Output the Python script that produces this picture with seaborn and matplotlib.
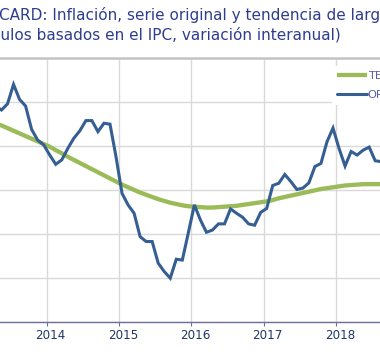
import numpy as np
import pandas as pd
import matplotlib
matplotlib.use("Agg")
import matplotlib.pyplot as plt
import matplotlib.transforms as mtransforms
import seaborn as sns

# monthly data, Apr 2013 - Aug 2018
months = pd.period_range("2013-04", "2018-08", freq="M")

original = [
    4.90, 4.81, 4.95, 5.39, 5.05, 4.90, 4.37, 4.13, 4.02,              # 2013
    3.79, 3.58, 3.68, 3.94, 4.17, 4.34, 4.57, 4.57, 4.32, 4.51, 4.49, 3.75,  # 2014
    2.92, 2.66, 2.47, 1.94, 1.83, 1.83, 1.34, 1.15, 1.00, 1.43, 1.41, 2.03,  # 2015
    2.66, 2.32, 2.04, 2.09, 2.23, 2.23, 2.57, 2.47, 2.38, 2.23, 2.20, 2.49,  # 2016
    2.58, 3.10, 3.15, 3.35, 3.19, 3.01, 3.04, 3.16, 3.53, 3.60, 4.09, 4.40,  # 2017
    3.94, 3.54, 3.87, 3.79, 3.90, 3.97, 3.66, 3.64,                          # 2018
]

tendencia = [
    4.50, 4.46, 4.40, 4.34, 4.28, 4.22, 4.16, 4.10, 4.04,
    3.98, 3.90, 3.83, 3.75, 3.68, 3.61, 3.54, 3.47, 3.40, 3.33, 3.26, 3.19,
    3.12, 3.06, 3.00, 2.94, 2.89, 2.84, 2.79, 2.75, 2.71, 2.68, 2.65, 2.63,
    2.62, 2.61, 2.60, 2.60, 2.61, 2.62, 2.63, 2.64, 2.66, 2.68, 2.70, 2.72,
    2.74, 2.77, 2.81, 2.84, 2.87, 2.90, 2.93, 2.96, 2.99, 3.02, 3.04, 3.06,
    3.08, 3.10, 3.11, 3.12, 3.13, 3.13, 3.13, 3.13,
]

years = [2014, 2015, 2016, 2017, 2018]

title1 = "CARD: Inflación, serie original y tendencia de largo plazo"
title2 = "(cálculos basados en el IPC, variación interanual)"

# category axis: month index from Jan 2014, points at category centres
pos = np.array([(p.year - 2014) * 12 + p.month - 1 for p in months]) + 0.5
df = pd.DataFrame({
    "x": np.concatenate([pos, pos]),
    "valor": original + tendencia,
    "serie": ["ORIGINAL"] * len(pos) + ["TENDENCIA"] * len(pos),
})

sns.set_style("white")
plt.rcParams["font.family"] = ["DejaVu Sans"]

W, H = 380, 363
fig = plt.figure(figsize=(W / 100, H / 100), dpi=100)
ax = fig.add_axes([0, (H - 322.3) / H, 1, (322.3 - 57.5) / H])

palette = {"TENDENCIA": "#9BBB59", "ORIGINAL": "#355E93"}
sns.lineplot(data=df[df.serie == "TENDENCIA"], x="x", y="valor", color=palette["TENDENCIA"],
             lw=3.1, ax=ax, label="TENDENCIA", solid_capstyle="butt")
sns.lineplot(data=df[df.serie == "ORIGINAL"], x="x", y="valor", color=palette["ORIGINAL"],
             lw=2.2, ax=ax, label="ORIGINAL", solid_joinstyle="miter")

px_per_month = 72.33 / 12
ax.set_xlim(-46.7 / px_per_month, (W - 46.7) / px_per_month)
ax.set_ylim(0, 6)

ax.set_xticks([(y - 2014) * 12 for y in years])
ax.set_xticklabels([str(y) for y in years])
ax.set_yticks(np.arange(0, 7, 1))
ax.tick_params(axis="y", left=False, labelleft=False)
ax.tick_params(axis="x", bottom=True, length=3, width=0.8, color="#6E6E9A",
               labelsize=8.6, labelcolor="#1F3763", pad=2)
offset = mtransforms.ScaledTranslation(4 / 100, 0, fig.dpi_scale_trans)
for lab in ax.get_xticklabels():
    lab.set_transform(lab.get_transform() + offset)

ax.grid(True, color="#D9D9D9", lw=1.0)
ax.set_axisbelow(True)
for side in ["left", "right"]:
    ax.spines[side].set_visible(False)
ax.spines["top"].set_color("#C4C4C4")
ax.spines["top"].set_linewidth(1.8)
ax.spines["bottom"].set_color("#6E6E9A")
ax.spines["bottom"].set_linewidth(1.0)
ax.set_xlabel("")
ax.set_ylabel("")

leg = ax.legend(loc="upper left", bbox_to_anchor=(332 / W, 1 - 66 / H),
                bbox_transform=fig.transFigure, frameon=True, fancybox=False,
                facecolor="white", edgecolor="none", framealpha=1,
                fontsize=8.2, handlelength=2.6, handletextpad=0.1,
                labelspacing=0.75, borderpad=0.45, borderaxespad=0)
for t in leg.get_texts():
    t.set_color("#5B5EA6")

title_kw = dict(fontsize=11, color="#2E3D8F", va="baseline", ha="left")
fig.text(-1 / W, 1 - 20 / H, title1, **title_kw)

# second title line starts earlier, so that "(cálc" falls off the left edge
fig.canvas.draw()
probe = fig.text(0, 0, "(cálc", **title_kw)
cut = probe.get_window_extent(fig.canvas.get_renderer()).width
probe.remove()
fig.text(-cut / W, 1 - 39 / H, title2, **title_kw)

fig.savefig("out.png", dpi=100)
